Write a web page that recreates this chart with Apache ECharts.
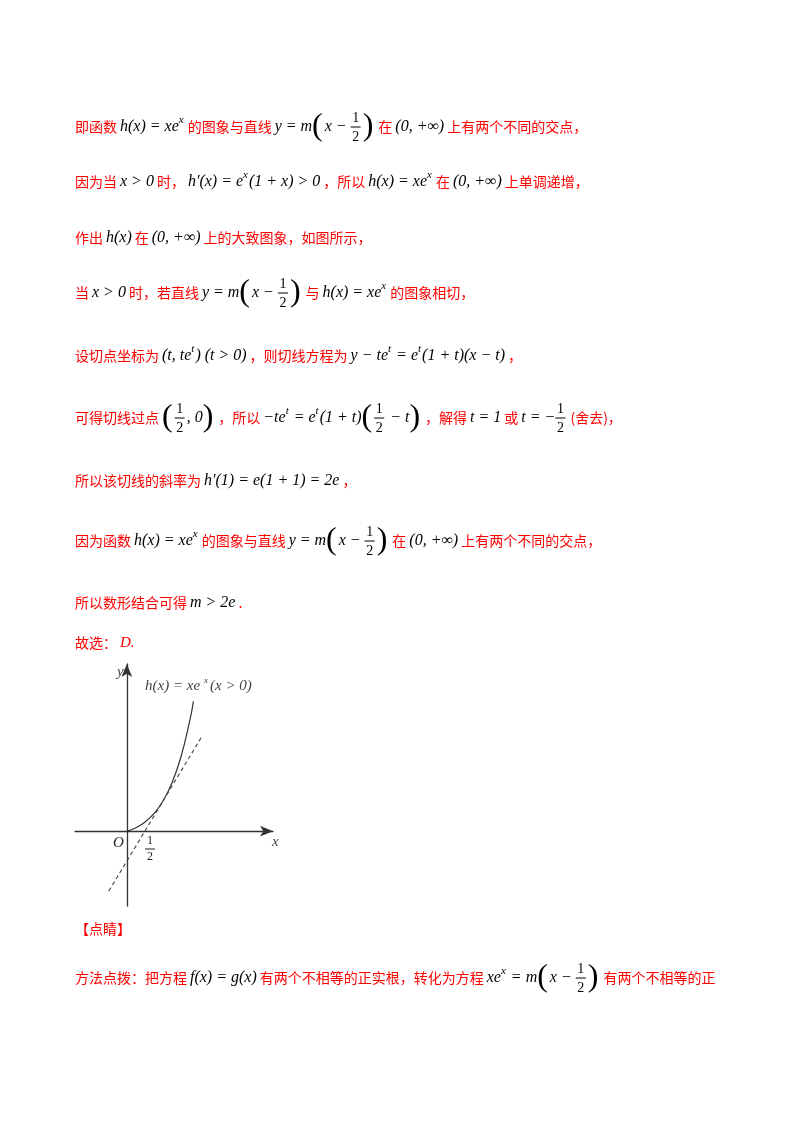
<!DOCTYPE html>
<html><head><meta charset="utf-8">
<script src="https://cdn.jsdelivr.net/npm/echarts@6/dist/echarts.min.js"></script>
<style>html,body{margin:0;background:#fff}#main{width:800px;height:1132px}</style>
</head><body><div id="main"></div>
<script>
// curve h(x) = x e^x
const curveX = [0, 0.25, 0.5, 0.75, 1, 1.25, 1.5, 1.75, 1.85];
const curveY = [0, 0.32, 0.82, 1.59, 2.72, 4.36, 6.72, 10.07, 11.8];
// tangent line through (1/2, 0)
const tangentX = [-0.5, 2.1];
const tangentY = [-5.44, 8.7];

const RED = '#ff0000';
const CN = '14px "Noto Sans CJK SC"';
const MATH = 'italic 16px "Liberation Serif"';
const SUP = 'italic 11px "Liberation Serif"';
const FR = '14px "Liberation Serif"';
const PAR = '32px "Liberation Serif"';
const GAP = 3;

const ctx = document.createElement('canvas').getContext('2d');
const w = (t, f) => { ctx.font = f; return ctx.measureText(t).width; };

const lines = [
  [127, [['c','即函数'],['m','h(x) = xe'],['s','x'],['c','的图象与直线'],['m','y = m'],['L'],['m','x − '],['f'],['R'],['c','在'],['m','(0, +∞)'],['c','上有两个不同的交点，']]],
  [182, [['c','因为当'],['m','x > 0'],['c','时，'],['m','h′(x) = e'],['s','x'],['m','(1 + x) > 0'],['c','，所以'],['m','h(x) = xe'],['s','x'],['c','在'],['m','(0, +∞)'],['c','上单调递增，']]],
  [238, [['c','作出'],['m','h(x)'],['c','在'],['m','(0, +∞)'],['c','上的大致图象，如图所示，']]],
  [293, [['c','当'],['m','x > 0'],['c','时，若直线'],['m','y = m'],['L'],['m','x − '],['f'],['R'],['c','与'],['m','h(x) = xe'],['s','x'],['c','的图象相切，']]],
  [356, [['c','设切点坐标为'],['m','(t, te'],['s','t'],['m',') (t > 0)'],['c','，则切线方程为'],['m','y − te'],['s','t'],['m',' = e'],['s','t'],['m','(1 + t)(x − t)'],['c','，']]],
  [418, [['c','可得切线过点'],['L'],['f'],['m',', 0'],['R'],['c','，所以'],['m','−te'],['s','t'],['m',' = e'],['s','t'],['m','(1 + t)'],['L'],['f'],['m',' − t'],['R'],['c','，解得'],['m','t = 1'],['c','或'],['m','t = −'],['f'],['c','(舍去)，']]],
  [481, [['c','所以该切线的斜率为'],['m','h′(1) = e(1 + 1) = 2e'],['c','，']]],
  [541, [['c','因为函数'],['m','h(x) = xe'],['s','x'],['c','的图象与直线'],['m','y = m'],['L'],['m','x − '],['f'],['R'],['c','在'],['m','(0, +∞)'],['c','上有两个不同的交点，']]],
  [603, [['c','所以数形结合可得'],['m','m > 2e'],['c','.']]],
  [643, [['c','故选：'],['r','D.']]],
  [929, [['c','【点睛】']]],
  [978, [['c','方法点拨：把方程'],['m','f(x) = g(x)'],['c','有两个不相等的正实根，转化为方程'],['m','xe'],['s','x'],['m',' = m'],['L'],['m','x − '],['f'],['R'],['c','有两个不相等的正']]]
];

const graphics = [];
const txt = (x, y, t, font, fill, align) => graphics.push({type:'text', x, y, style:{text:t, font, fill, align: align || 'left', verticalAlign:'middle'}});
lines.forEach(([y, segs]) => {
  let x = 75;
  let prev = null;
  segs.forEach(s => {
    const k = s[0];
    if (prev && (k === 'c') !== (prev === 'c')) x += GAP;
    prev = k;
    if (k === 'c') { txt(x, y, s[1], CN, RED); x += w(s[1], CN); }
    else if (k === 'r') { txt(x, y, s[1], 'italic 15px "Liberation Serif"', RED); x += w(s[1], MATH); }
    else if (k === 'm') { txt(x, y, s[1], MATH, '#000'); x += w(s[1], MATH); }
    else if (k === 's') { txt(x, y - 7, s[1], SUP, '#000'); x += w(s[1], SUP) + 1; }
    else if (k === 'L' || k === 'R') { const t = k === 'L' ? '(' : ')'; txt(x, y, t, PAR, '#000'); x += w(t, PAR) + 2; }
    else if (k === 'f') {
      const fw = 10;
      txt(x + fw / 2, y - 9, '1', FR, '#000', 'center');
      txt(x + fw / 2, y + 10, '2', FR, '#000', 'center');
      graphics.push({type:'line', shape:{x1:x, y1:y, x2:x + fw, y2:y}, style:{stroke:'#000', lineWidth:1}});
      x += fw + 2;
    }
  });
});

// figure labels
const G = '#444';
txt(145, 686, 'h(x) = xe', 'italic 15px "Liberation Serif"', G);
txt(204, 681, 'x', 'italic 9px "Liberation Serif"', G);
txt(210, 686, '(x > 0)', 'italic 15px "Liberation Serif"', G);
txt(117, 672, 'y', 'italic 15px "Liberation Serif"', G);
txt(272, 842, 'x', 'italic 15px "Liberation Serif"', G);
txt(113, 843, 'O', 'italic 15px "Liberation Serif"', '#222');
txt(150, 841, '1', '12px "Liberation Serif"', '#222', 'center');
txt(150, 857, '2', '12px "Liberation Serif"', '#222', 'center');
graphics.push({type:'line', shape:{x1:145, y1:849, x2:155, y2:849}, style:{stroke:'#222', lineWidth:1}});

const chart = echarts.init(document.getElementById('main'));
const axisBase = {axisLabel:{show:false}, axisTick:{show:false}, splitLine:{show:false},
  axisLine:{onZero:true, symbol:['none','arrow'], symbolSize:[8,13], lineStyle:{color:'#333', width:1.3}}};
chart.setOption({
  animation:false,
  grid:{left:75, top:664, width:198, height:242},
  xAxis:Object.assign({type:'value', min:-1.44, max:4.06}, axisBase),
  yAxis:Object.assign({type:'value', min:-6.8, max:15.2}, axisBase),
  graphic:graphics,
  series:[
    {type:'line', smooth:true, symbol:'none', data:curveX.map((x, i) => [x, curveY[i]]), lineStyle:{color:'#333', width:1.2}},
    {type:'line', symbol:'none', data:tangentX.map((x, i) => [x, tangentY[i]]), lineStyle:{color:'#444', width:1.1, type:[4,3]}}
  ]
});
</script></body></html>
